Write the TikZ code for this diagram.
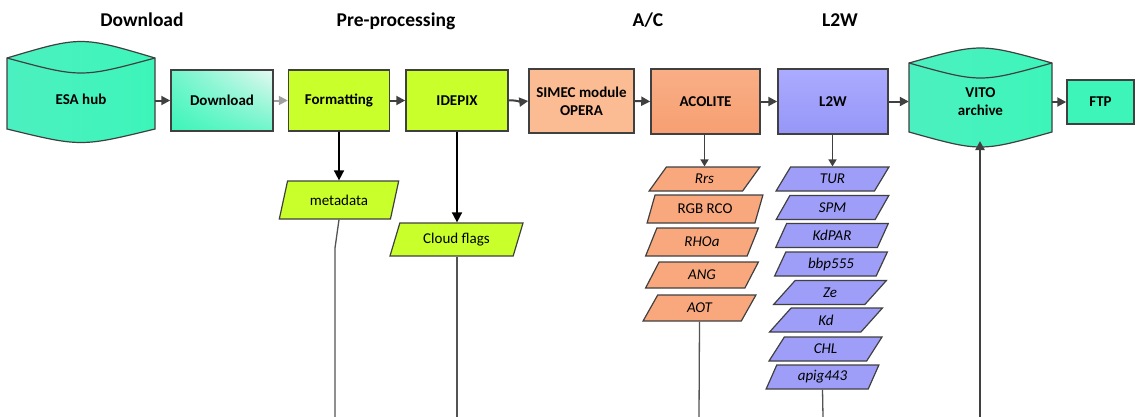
\documentclass[tikz,border=0pt]{standalone}
\usepackage{fontspec}
\setmainfont{Carlito}
\usetikzlibrary{shapes.geometric,arrows.meta,shadings}

\definecolor{edge}{HTML}{404040}
\definecolor{turq}{HTML}{3DF5B9}
\definecolor{turqL}{HTML}{4CF0C0}
\definecolor{turqW}{HTML}{E6F8F2}
\definecolor{lime}{HTML}{C9FF2B}
\definecolor{peach}{HTML}{FBBC94}
\definecolor{orangeT}{HTML}{F9AE85}
\definecolor{orangeB}{HTML}{F79F72}
\definecolor{violetT}{HTML}{ABABFF}
\definecolor{violetB}{HTML}{9696F8}
\definecolor{violetP}{HTML}{9E9EF9}
\definecolor{orangeP}{HTML}{F9A87D}

\tikzset{
  txt/.style={font=\fontsize{15}{17}\selectfont\bfseries, align=center},
  header/.style={font=\fontsize{19.5}{22}\selectfont\bfseries, anchor=base},
  proc/.style={draw=edge, line width=1.5pt, txt, inner sep=0pt},
  para/.style={trapezium, trapezium left angle=66, trapezium right angle=114,
    trapezium stretches=true, draw=edge, line width=1.2pt, inner sep=0pt,
    font=\fontsize{15}{17}\selectfont},
  flow/.style={draw=edge, line width=2pt, -{Triangle[length=9pt,width=9pt]}},
  flowlight/.style={draw=gray!75, line width=2pt, -{Triangle[length=9pt,width=9pt]}},
  drop/.style={draw=black, line width=1.6pt, -{Triangle[length=10pt,width=10pt]}},
  dropsmall/.style={draw=edge, line width=1.6pt, -{Triangle[length=7pt,width=8pt]}},
  tail/.style={draw=edge!90, line width=1.3pt},
  cyl/.style={draw=edge, line width=1.2pt, left color=turqL, right color=turq},
}

\begin{document}
\begin{tikzpicture}[x=1pt,y=-1pt]
\useasboundingbox (0,0) rectangle (1138,416);

% column headings
\node[header] (hdl)  at (142,26) {Download};
\node[header] (hpre) at (396,26) {Pre-processing};
\node[header] (hac)  at (648,26) {A/C};
\node[header] (hl2w) at (840,26) {L2W};

% ESA hub data store
\path[cyl] (7,58) .. controls (81,36) .. (155,58) -- (155,129)
  .. controls (81,147) .. (7,129) -- cycle;
\draw[edge, line width=1.2pt] (7,58) .. controls (81,78) .. (155,58);
\node[txt, minimum width=148pt, minimum height=80pt] (esa) at (81,99) {ESA hub};

% VITO archive data store
\path[cyl] (909,63) .. controls (980.5,43) .. (1052,63) -- (1052,132)
  .. controls (980.5,152) .. (909,132) -- cycle;
\draw[edge, line width=1.2pt] (909,63) .. controls (980.5,83) .. (1052,63);
\node[txt, minimum width=143pt, minimum height=78pt] (vito) at (980.5,102) {VITO\\[1pt]archive};
\coordinate (vitobot) at (980,141);

% processing chain
\node[proc, minimum width=102pt, minimum height=61pt,
      lower left=turq, upper right=turqW, lower right=turq!70!turqW, upper left=turq!70!turqW] (dl) at (222,100.5) {Download};
\node[proc, fill=lime, minimum width=101pt, minimum height=61pt] (fmt) at (339,100.5) {Formatting};
\node[proc, fill=lime, minimum width=102pt, minimum height=61pt] (idp) at (457,100.5) {IDEPIX};
\node[proc, fill=peach, minimum width=105pt, minimum height=64pt] (sim) at (581.5,101) {SIMEC module\\[1pt]OPERA};
\node[proc, top color=orangeT, bottom color=orangeB, minimum width=109pt, minimum height=65pt] (aco) at (705.5,101.5) {ACOLITE};
\node[proc, top color=violetT, bottom color=violetB, minimum width=110pt, minimum height=65pt] (l2w) at (833,101.5) {L2W};
\node[proc, fill=turq, minimum width=67pt, minimum height=44pt] (ftp) at (1100.5,102) {FTP};

% main flow
\draw[flow] (esa.east |- dl.west) -- (dl.west);
\draw[flowlight] (dl.east) -- (fmt.west);
\draw[flow] (fmt.east) -- (idp.west);
\draw[flow] (idp.east) .. controls (518,100) and (520,102) .. (sim.west);
\draw[flow] (sim.east) -- (aco.west);
\draw[flow] (aco.east) -- (l2w.west);
\draw[flow] (l2w.east) -- (vito.west |- l2w.east);
\draw[flow] (vito.east |- ftp.west) -- (ftp.west);

% pre-processing outputs
\node[para, fill=lime, minimum width=120pt, minimum height=38pt] (meta) at (339,200) {metadata};
\node[para, fill=lime, minimum width=133pt, minimum height=33pt] (cloud) at (456.5,239.5) {Cloud flags};
\draw[drop] (fmt.south) -- (meta.north);
\draw[drop] (idp.south) -- (idp.south |- cloud.north);

\coordinate (metabend) at (335,248);
\coordinate (metaend) at (335,417);
\coordinate (cloudend) at (457,417);
\draw[tail] (meta.south) -- (metabend) -- (metaend);
\draw[tail] (cloud.south -| cloudend) -- (cloudend);

% ACOLITE outputs
\begin{scope}[every node/.append style={para, fill=orangeP, font=\fontsize{15}{17}\selectfont\itshape}]
  \node[minimum width=111pt, minimum height=24pt] (rrs) at (704.5,179) {Rrs};
  \node[minimum width=116pt, minimum height=28pt, font=\fontsize{15}{17}\selectfont\upshape] (rgb) at (705,209) {RGB RCO};
  \node[minimum width=113pt, minimum height=28pt] (rho) at (702,242) {RHOa};
  \node[minimum width=113pt, minimum height=26pt] (ang) at (702,275) {ANG};
  \node[minimum width=113pt, minimum height=26pt] (aot) at (699.5,308) {AOT};
\end{scope}
\draw[dropsmall] (aco.south -| rrs.north) -- (rrs.north);
\coordinate (aotend) at (699,417);
\draw[tail] (aot.south) -- (aotend);

% L2W outputs
\begin{scope}[every node/.append style={para, fill=violetP, minimum width=113pt, minimum height=24pt, font=\fontsize{15}{17}\selectfont\itshape}]
  \node (tur)  at (832.5,179) {TUR};
  \node (spm)  at (832.5,207.5) {SPM};
  \node (kdp)  at (832,235.5) {KdPAR};
  \node (bbp)  at (831,264) {bbp555};
  \node (ze)   at (830,292.5) {Ze};
  \node (kd)   at (826,320) {Kd};
  \node (chl)  at (825.5,349) {CHL};
  \node (apig) at (822.5,377) {apig443};
\end{scope}
\draw[dropsmall] (l2w.south -| tur.north) -- (tur.north);
\coordinate (apigend) at (823,417);
\draw[tail] (apig.south) -- (apigend);

% archive ingestion
\coordinate (vitoin) at (980,417);
\draw[flow, line width=2.5pt] (vitoin) -- (vitobot);
\end{tikzpicture}
\end{document}
